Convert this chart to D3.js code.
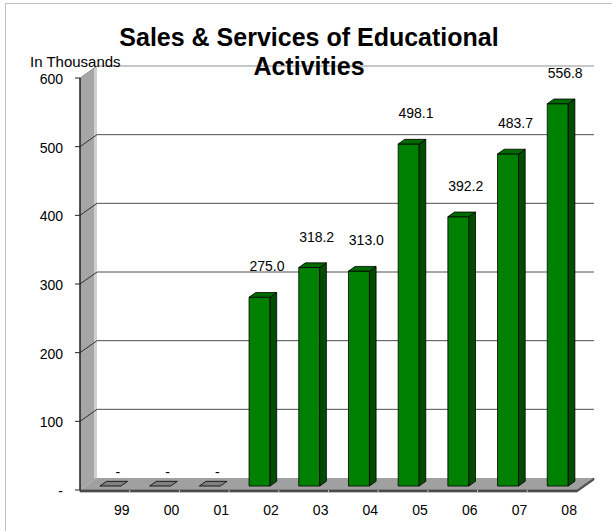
<!DOCTYPE html>
<html>
<head>
<meta charset="utf-8">
<script src="https://cdn.jsdelivr.net/npm/d3@7"></script>
<style>
    body { margin: 0; background: #fff; }
    text { font-family: "Liberation Sans", Arial, sans-serif; fill: #000; }
</style>
</head>
<body>
<svg id="chart" width="612" height="531"></svg>
<script>
var years = ["99", "00", "01", "02", "03", "04", "05", "06", "07", "08"];
var sales = [0, 0, 0, 275.0, 318.2, 313.0, 498.1, 392.2, 483.7, 556.8];
var tickValues = [0, 100, 200, 300, 400, 500, 600];
var titleLines = ["Sales & Services of Educational", "Activities"];
var unitLabel = "In Thousands";

// oblique 3d offset of the back wall
var DEPTH_X = 17;
var DEPTH_Y = -12;
var BAR_Z0 = 0.33;
var BAR_Z1 = 0.72;
var BAR_WIDTH = 21;

function fmt(v) {
    return v === 0 ? "-" : d3.format(".1f")(v);
}

function tickFmt(v) {
    return v === 0 ? "-" : String(v);
}

document.addEventListener("DOMContentLoaded", () => {
    let svg = d3.select("#chart");

    let x = d3.scaleBand().domain(years).range([80, 577]);
    let y = d3.scaleLinear().domain([0, 600]).range([490, 78]);

    function proj(px, v, z) {
        return [px + DEPTH_X * z, y(v) + DEPTH_Y * z];
    }
    function poly(pts) {
        return pts.map(p => p.join(",")).join(" ");
    }

    // outer frame
    svg.append("rect")
        .attr("x", 5.5).attr("y", 3.5)
        .attr("width", 700).attr("height", 700)
        .attr("fill", "none")
        .attr("stroke", "#c0c0c0");

    // left wall
    svg.append("polygon")
        .attr("points", poly([proj(80, 0, 0), proj(80, 600, 0), proj(80, 600, 1), proj(80, 0, 1)]))
        .attr("fill", "#a6a6a6");
    svg.append("line")
        .attr("x1", 95.5).attr("x2", 95.5)
        .attr("y1", y(600) + DEPTH_Y).attr("y2", y(0) + DEPTH_Y)
        .attr("stroke", "#cfcfcf").attr("stroke-width", 3);

    // floor
    let x0 = x.range()[0], x1 = x.range()[1];
    svg.append("polygon")
        .attr("points", poly([proj(x0, 0, 0), proj(x1, 0, 0), proj(x1, 0, 1), proj(x0, 0, 1)]))
        .attr("fill", "#a0a0a0");
    svg.append("polygon")
        .attr("points", poly([proj(x0, 0, 0), proj(x1, 0, 0), proj(x1, 0, 1),
            [x1 + DEPTH_X, y(0) + DEPTH_Y + 2], [x1, y(0) + 2], [x0, y(0) + 2]]))
        .attr("fill", "#555")
        .attr("stroke", "#333").attr("stroke-width", 0.6);

    svg.append("g")
        .selectAll("line")
        .data(years.slice(1))
        .enter().append("line")
            .attr("x1", d => x(d)).attr("x2", d => x(d))
            .attr("y1", y(0)).attr("y2", y(0) + 2)
            .attr("stroke", "#bbb");

    // gridlines on back wall, slanted ticks on left wall
    let grid = svg.append("g").attr("class", "grid");
    grid.selectAll(".back")
        .data(tickValues.filter(v => v > 0))
        .enter().append("line")
            .attr("x1", x0 + DEPTH_X).attr("x2", x1 + DEPTH_X)
            .attr("y1", d => y(d) + DEPTH_Y).attr("y2", d => y(d) + DEPTH_Y)
            .attr("stroke", d => d === 600 ? "#909090" : "#505050");
    grid.selectAll(".side")
        .data(tickValues.filter(v => v > 0))
        .enter().append("line")
            .attr("x1", x0).attr("x2", x0 + DEPTH_X)
            .attr("y1", d => y(d)).attr("y2", d => y(d) + DEPTH_Y)
            .attr("stroke", d => d === 600 ? "#909090" : "#303030");

    // value axis
    svg.append("line")
        .attr("x1", x0).attr("x2", x0)
        .attr("y1", y(600)).attr("y2", y(0))
        .attr("stroke", "#222").attr("stroke-width", 1.5);
    grid.selectAll(".tick")
        .data(tickValues)
        .enter().append("line")
            .attr("x1", x0 - 5).attr("x2", x0)
            .attr("y1", d => y(d)).attr("y2", d => y(d))
            .attr("stroke", "#222");
    svg.append("g")
        .selectAll("text")
        .data(tickValues)
        .enter().append("text")
            .attr("x", 63)
            .attr("y", d => y(d) + 6)
            .attr("text-anchor", "end")
            .attr("font-size", 14)
            .text(tickFmt);

    // bars
    let bars = svg.append("g").attr("class", "bars")
        .selectAll("g")
        .data(years.map((yr, i) => ({year: yr, value: sales[i]})))
        .enter().append("g");

    function edges(d) {
        let c = x(d.year) + x.bandwidth() / 2;
        return [c - BAR_WIDTH / 2, c + BAR_WIDTH / 2];
    }

    bars.filter(d => d.value > 0).append("polygon")
        .attr("points", d => {
            let [l, r] = edges(d);
            return poly([proj(l, 0, BAR_Z0), proj(r, 0, BAR_Z0), proj(r, d.value, BAR_Z0), proj(l, d.value, BAR_Z0)]);
        })
        .attr("fill", "#008000").attr("stroke", "#000").attr("stroke-width", 0.8);
    bars.filter(d => d.value > 0).append("polygon")
        .attr("points", d => {
            let [l, r] = edges(d);
            return poly([proj(r, 0, BAR_Z0), proj(r, 0, BAR_Z1), proj(r, d.value, BAR_Z1), proj(r, d.value, BAR_Z0)]);
        })
        .attr("fill", "#004d00").attr("stroke", "#000").attr("stroke-width", 0.8);
    bars.append("polygon")
        .attr("points", d => {
            let [l, r] = edges(d);
            return poly([proj(l, d.value, BAR_Z0), proj(r, d.value, BAR_Z0), proj(r, d.value, BAR_Z1), proj(l, d.value, BAR_Z1)]);
        })
        .attr("fill", d => d.value > 0 ? "#006a00" : "#808080")
        .attr("stroke", "#000").attr("stroke-width", 0.8);

    // data labels
    bars.append("text")
        .attr("x", d => x(d.year) + x.bandwidth() / 2 + 13)
        .attr("y", d => y(d.value) + DEPTH_Y * BAR_Z0 - (d.value === 0 ? 9 : 26))
        .attr("text-anchor", "middle")
        .attr("font-size", 14)
        .text(d => fmt(d.value));

    // category labels
    svg.append("g")
        .selectAll("text")
        .data(years)
        .enter().append("text")
            .attr("x", d => x(d) + x.bandwidth() / 2 + DEPTH_X)
            .attr("y", 515)
            .attr("text-anchor", "middle")
            .attr("font-size", 14)
            .text(d => d);

    // titles
    svg.append("text")
        .attr("x", 30).attr("y", 67)
        .attr("font-size", 15)
        .text(unitLabel);

    svg.append("g")
        .selectAll("text")
        .data(titleLines)
        .enter().append("text")
            .attr("x", 309)
            .attr("y", (d, i) => 46 + i * 29)
            .attr("text-anchor", "middle")
            .attr("font-size", 25)
            .attr("font-weight", "bold")
            .text(d => d);
});
</script>
</body>
</html>
